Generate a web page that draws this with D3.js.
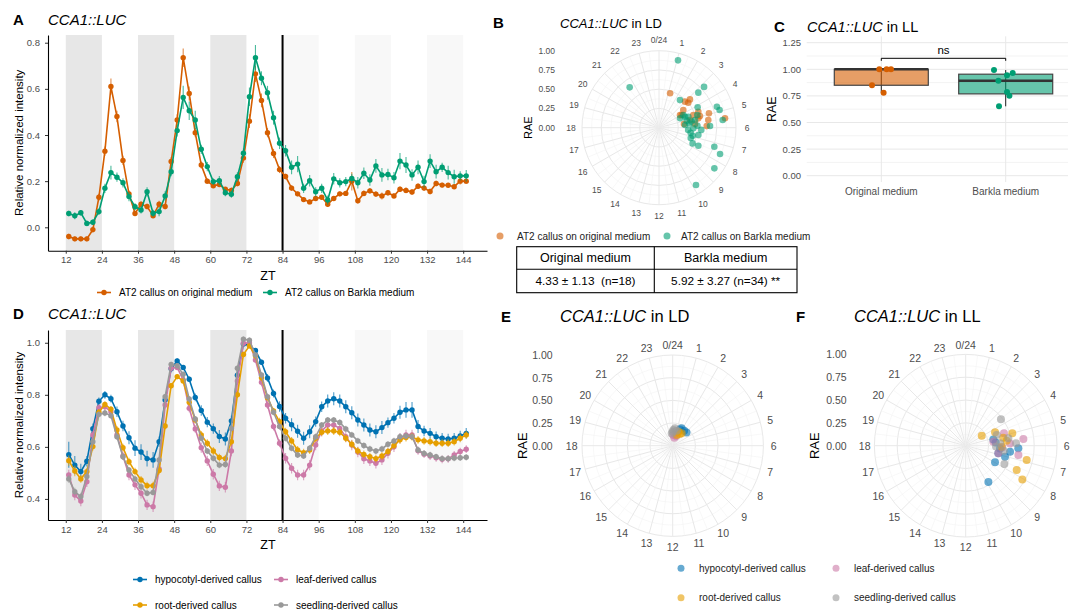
<!DOCTYPE html>
<html>
<head>
<meta charset="utf-8">
<script src="https://cdn.jsdelivr.net/npm/d3@7"></script>
<style>
    body { margin: 0; background: #fff; }
    svg { font-family: "Liberation Sans", Arial, sans-serif; }
    .axis .domain { stroke: #000; stroke-width: 1.1; }
    .axis .tick line { stroke: #333; }
    .axis .tick text { fill: #4d4d4d; font-size: 9.5px; }
</style>
</head>
<body>
<div id="container"></div>
<script>
const ztTimes = [13, 15, 17, 19, 21, 23, 25, 27, 29, 31, 33, 35, 37, 39, 41, 43, 45, 47, 49, 51,
    53, 55, 57, 59, 61, 63, 65, 67, 69, 71, 73, 75, 77, 79, 81, 83, 85, 87, 89, 91,
    93, 95, 97, 99, 101, 103, 105, 107, 109, 111, 113, 115, 117, 119, 121, 123, 125, 127, 129, 131,
    133, 135, 137, 139, 141, 143, 145];
const ztTicks = [12, 24, 36, 48, 60, 72, 84, 96, 108, 120, 132, 144];
const darkNights = [[12, 24], [36, 48], [60, 72]];
const subjectiveNights = [[84, 96], [108, 120], [132, 144]];

// panel A
const aOriginal = [-0.04, -0.05, -0.05, -0.05, -0.01, 0.13, 0.33, 0.61, 0.48, 0.29, 0.145, 0.06, 0.10, 0.09, 0.05, 0.10, 0.09, 0.285, 0.465, 0.735,
    0.58, 0.41, 0.27, 0.20, 0.18, 0.185, 0.165, 0.16, 0.19, 0.30, 0.46, 0.665, 0.55, 0.41, 0.32, 0.25, 0.22, 0.17, 0.145, 0.12,
    0.11, 0.125, 0.13, 0.10, 0.125, 0.145, 0.147, 0.20, 0.115, 0.147, 0.158, 0.144, 0.136, 0.15, 0.136, 0.165, 0.16, 0.153, 0.178, 0.17,
    0.155, 0.19, 0.183, 0.182, 0.176, 0.20, 0.20];
const aOriginalErr = [0.012, 0.01, 0.01, 0.01, 0.012, 0.015, 0.02, 0.035, 0.025, 0.02, 0.015, 0.01, 0.012, 0.012, 0.01, 0.015, 0.012, 0.02, 0.025, 0.04,
    0.03, 0.02, 0.015, 0.012, 0.01, 0.01, 0.01, 0.012, 0.012, 0.02, 0.03, 0.035, 0.03, 0.02, 0.02, 0.015, 0.012, 0.012, 0.01, 0.01,
    0.01, 0.01, 0.01, 0.012, 0.01, 0.01, 0.01, 0.04, 0.012, 0.012, 0.012, 0.012, 0.015, 0.012, 0.012, 0.012, 0.012, 0.012, 0.012, 0.012,
    0.012, 0.012, 0.01, 0.01, 0.01, 0.015, 0.012];
const aBarkla = [0.06, 0.05, 0.063, 0.017, 0.022, 0.068, 0.169, 0.237, 0.217, 0.193, 0.133, 0.089, 0.075, 0.154, 0.061, 0.068, 0.136, 0.241, 0.419, 0.563,
    0.505, 0.465, 0.338, 0.263, 0.198, 0.202, 0.15, 0.143, 0.219, 0.321, 0.566, 0.735, 0.646, 0.583, 0.475, 0.364, 0.332, 0.26, 0.274, 0.169,
    0.202, 0.154, 0.169, 0.118, 0.21, 0.193, 0.198, 0.212, 0.193, 0.234, 0.205, 0.266, 0.227, 0.229, 0.215, 0.287, 0.27, 0.227, 0.26, 0.198,
    0.287, 0.241, 0.26, 0.237, 0.219, 0.223, 0.223];
const aBarklaErr = [0.012, 0.015, 0.012, 0.012, 0.012, 0.015, 0.02, 0.03, 0.02, 0.02, 0.02, 0.015, 0.015, 0.02, 0.015, 0.02, 0.02, 0.02, 0.025, 0.05,
    0.04, 0.04, 0.02, 0.02, 0.015, 0.02, 0.015, 0.015, 0.02, 0.02, 0.04, 0.055, 0.03, 0.03, 0.03, 0.025, 0.025, 0.03, 0.035, 0.02,
    0.025, 0.02, 0.02, 0.02, 0.025, 0.02, 0.02, 0.02, 0.025, 0.025, 0.025, 0.03, 0.03, 0.025, 0.025, 0.035, 0.035, 0.025, 0.03, 0.025,
    0.03, 0.03, 0.02, 0.03, 0.03, 0.02, 0.025];

// panel D
const dHypocotyl = [0.57, 0.53, 0.505, 0.545, 0.67, 0.775, 0.80, 0.785, 0.735, 0.68, 0.635, 0.595, 0.58, 0.555, 0.55, 0.62, 0.78, 0.90, 0.93, 0.905,
    0.86, 0.79, 0.74, 0.695, 0.67, 0.64, 0.63, 0.70, 0.875, 0.995, 0.99, 0.97, 0.925, 0.865, 0.805, 0.755, 0.71, 0.685, 0.66, 0.633,
    0.658, 0.697, 0.754, 0.776, 0.785, 0.776, 0.754, 0.731, 0.703, 0.684, 0.665, 0.658, 0.674, 0.693, 0.71, 0.733, 0.742, 0.742, 0.678, 0.661,
    0.652, 0.639, 0.633, 0.63, 0.633, 0.642, 0.652];
const dHypocotylErr = [0.05, 0.035, 0.03, 0.02, 0.02, 0.015, 0.015, 0.015, 0.02, 0.02, 0.025, 0.03, 0.03, 0.03, 0.03, 0.02, 0.015, 0.01, 0.01, 0.01,
    0.01, 0.015, 0.02, 0.02, 0.02, 0.025, 0.025, 0.02, 0.015, 0.01, 0.01, 0.01, 0.01, 0.015, 0.015, 0.02, 0.02, 0.025, 0.025, 0.025,
    0.025, 0.02, 0.02, 0.025, 0.025, 0.025, 0.025, 0.025, 0.025, 0.025, 0.025, 0.025, 0.025, 0.02, 0.02, 0.025, 0.03, 0.03, 0.025, 0.02,
    0.02, 0.02, 0.02, 0.02, 0.02, 0.02, 0.02];
const dLeaf = [0.492, 0.415, 0.392, 0.466, 0.646, 0.75, 0.754, 0.735, 0.646, 0.565, 0.492, 0.454, 0.422, 0.377, 0.37, 0.515, 0.761, 0.902, 0.905, 0.857,
    0.748, 0.669, 0.597, 0.546, 0.495, 0.45, 0.445, 0.584, 0.853, 0.998, 1.0, 0.934, 0.848, 0.761, 0.678, 0.614, 0.556, 0.518, 0.492, 0.492,
    0.53, 0.607, 0.661, 0.684, 0.684, 0.671, 0.639, 0.607, 0.58, 0.554, 0.546, 0.537, 0.55, 0.575, 0.60, 0.633, 0.646, 0.646, 0.585, 0.572,
    0.565, 0.558, 0.552, 0.554, 0.569, 0.582, 0.591];
const dLeafErr = [0.02, 0.02, 0.02, 0.02, 0.015, 0.015, 0.015, 0.015, 0.015, 0.015, 0.02, 0.02, 0.02, 0.02, 0.02, 0.015, 0.015, 0.01, 0.01, 0.01,
    0.015, 0.015, 0.02, 0.02, 0.02, 0.02, 0.02, 0.02, 0.015, 0.01, 0.01, 0.01, 0.015, 0.015, 0.015, 0.015, 0.02, 0.02, 0.02, 0.02,
    0.02, 0.02, 0.02, 0.02, 0.02, 0.02, 0.02, 0.02, 0.02, 0.02, 0.02, 0.02, 0.02, 0.02, 0.02, 0.02, 0.02, 0.02, 0.015, 0.015,
    0.015, 0.015, 0.015, 0.015, 0.015, 0.015, 0.015];
const dRoot = [0.547, 0.507, 0.477, 0.505, 0.601, 0.733, 0.763, 0.745, 0.665, 0.597, 0.543, 0.505, 0.473, 0.451, 0.451, 0.509, 0.68, 0.835, 0.87, 0.853,
    0.771, 0.703, 0.646, 0.614, 0.584, 0.559, 0.555, 0.62, 0.80, 0.955, 0.988, 0.95, 0.866, 0.789, 0.738, 0.697, 0.658, 0.623, 0.588, 0.578,
    0.588, 0.633, 0.656, 0.661, 0.661, 0.656, 0.633, 0.61, 0.584, 0.571, 0.562, 0.555, 0.565, 0.582, 0.605, 0.627, 0.636, 0.639, 0.627, 0.623,
    0.62, 0.614, 0.614, 0.614, 0.62, 0.633, 0.646];
const dRootErr = [0.02, 0.02, 0.015, 0.015, 0.015, 0.012, 0.012, 0.012, 0.015, 0.015, 0.015, 0.015, 0.015, 0.015, 0.015, 0.015, 0.012, 0.01, 0.01, 0.01,
    0.012, 0.012, 0.015, 0.015, 0.015, 0.015, 0.015, 0.015, 0.012, 0.01, 0.01, 0.01, 0.012, 0.012, 0.012, 0.015, 0.015, 0.015, 0.015, 0.015,
    0.015, 0.015, 0.015, 0.015, 0.015, 0.015, 0.015, 0.015, 0.015, 0.015, 0.015, 0.015, 0.015, 0.015, 0.015, 0.015, 0.015, 0.015, 0.015, 0.015,
    0.015, 0.015, 0.015, 0.015, 0.015, 0.015, 0.015];
const dSeedling = [0.477, 0.428, 0.409, 0.486, 0.62, 0.725, 0.73, 0.72, 0.639, 0.562, 0.511, 0.477, 0.447, 0.422, 0.425, 0.55, 0.793, 0.917, 0.912, 0.879,
    0.784, 0.707, 0.633, 0.584, 0.556, 0.53, 0.532, 0.671, 0.902, 1.014, 1.01, 0.953, 0.876, 0.793, 0.733, 0.678, 0.633, 0.595, 0.569, 0.565,
    0.595, 0.639, 0.684, 0.703, 0.703, 0.694, 0.669, 0.646, 0.623, 0.605, 0.592, 0.584, 0.592, 0.61, 0.623, 0.639, 0.642, 0.639, 0.588, 0.575,
    0.569, 0.562, 0.555, 0.555, 0.557, 0.558, 0.56];
const dSeedlingErr = [0.015, 0.015, 0.015, 0.015, 0.012, 0.012, 0.012, 0.012, 0.012, 0.012, 0.012, 0.012, 0.012, 0.012, 0.012, 0.012, 0.01, 0.01, 0.01, 0.01,
    0.01, 0.012, 0.012, 0.012, 0.012, 0.012, 0.012, 0.012, 0.01, 0.01, 0.01, 0.01, 0.01, 0.012, 0.012, 0.012, 0.012, 0.012, 0.012, 0.012,
    0.012, 0.012, 0.012, 0.012, 0.012, 0.012, 0.012, 0.012, 0.012, 0.012, 0.012, 0.012, 0.012, 0.012, 0.012, 0.012, 0.012, 0.012, 0.012, 0.012,
    0.012, 0.012, 0.012, 0.012, 0.012, 0.012, 0.012];

// panel B: phase (h) and RAE per callus
const bOriginalPhase = [1.19, 3.17, 3.3, 3.0, 3.6, 4.05, 4.65, 4.53, 4.93, 5.46, 5.41, 5.11, 5.87, 5.44, 5.07, 5.6, 3.94, 4.94];
const bOriginalRae = [0.47, 0.545, 0.50, 0.478, 0.39, 0.337, 0.475, 0.551, 0.675, 0.866, 0.648, 0.525, 0.62, 0.328, 0.415, 0.47, 0.318, 0.553];
const bBarklaPhase = [1.05, 21.6, 3.19, 3.22, 2.48, 4.67, 4.15, 4.91, 5.54, 5.87, 6.7, 7.27, 7.55, 8.42, 9.81, 7.64, 7.67, 7.2, 6.6, 6.07,
    5.46, 4.47, 4.63, 4.17, 4.78, 5.05, 5.3, 5.2, 5.6, 6.3, 6.9, 5.8, 4.4, 6.2];
const bBarklaRae = [0.909, 0.648, 0.79, 0.684, 0.45, 0.80, 0.567, 0.82, 0.833, 0.663, 0.52, 0.76, 0.863, 0.892, 0.886, 0.562, 0.482, 0.433, 0.416, 0.446,
    0.398, 0.367, 0.407, 0.356, 0.524, 0.371, 0.431, 0.478, 0.34, 0.38, 0.45, 0.50, 0.30, 0.55];

// panel C: RAE in LL
const cCategories = ['Original medium', 'Barkla medium'];
const cOriginal = [1.0, 1.0, 1.0, 0.85, 0.78];
const cBarkla = [0.993, 0.893, 0.943, 0.965, 0.786, 0.752, 0.652];
const cOriginalJitter = [-2, 5.3, 9.7, -9.3, 2.3];
const cBarklaJitter = [-11.7, -7.3, 1.3, 7, 1.3, 3.7, -6.7];

// panel E: LD
const eHypPhase = [3.1, 1.8, 2.5, 1.6];
const eHypRae = [0.21, 0.215, 0.207, 0.197];
const eRootPhase = [2.1, 1.5, 2.4, 1.4];
const eRootRae = [0.152, 0.167, 0.168, 0.126];
const eLeafPhase = [0.8, 1.3, 0.2];
const eLeafRae = [0.09, 0.113, 0.118];
const eSeedPhase = [0.16, 0.5, 0.0, 1.0, 23.7];
const eSeedRae = [0.173, 0.193, 0.154, 0.171, 0.136];

// panel F: LL
const fHypPhase = [9.87, 7.97, 6.19, 7.04, 6.88, 5.14, 6.51, 6.3, 5.6];
const fHypRae = [0.469, 0.369, 0.577, 0.447, 0.367, 0.31, 0.49, 0.377, 0.33];
const fRootPhase = [3.87, 4.37, 5.01, 6.88, 7.7, 8.05, 5.53, 6.1, 5.2];
const fRootRae = [0.207, 0.353, 0.528, 0.686, 0.619, 0.722, 0.452, 0.394, 0.42];
const fLeafPhase = [5.56, 6.67, 4.8, 5.45, 6.88, 5.8, 6.2];
const fLeafRae = [0.636, 0.586, 0.441, 0.306, 0.367, 0.486, 0.40];
const fSeedPhase = [3.55, 5.82, 7.69, 4.73, 5.35, 5.74, 6.1, 6.5];
const fSeedRae = [0.482, 0.552, 0.469, 0.359, 0.474, 0.377, 0.332, 0.42];

const orange = '#D55E00', green = '#009E73';
const blue = '#0072B2', pink = '#CC79A7', amber = '#E69F00', grey = '#999999';

const svg = d3.select('#container').append('svg')
    .attr('width', 1070)
    .attr('height', 610);

function panelTitle(letter, lx, x, y, size, suffix) {
    svg.append('text')
        .attr('x', lx)
        .attr('y', y)
        .attr('font-size', '15px')
        .attr('font-weight', 'bold')
        .text(letter);
    const t = svg.append('text')
        .attr('x', x)
        .attr('y', y)
        .attr('font-size', size + 'px');
    t.append('tspan').attr('font-style', 'italic').text('CCA1::LUC');
    if (suffix) t.append('tspan').text(' ' + suffix);
}

function drawLinePanel(cfg) {
    const x = d3.scaleLinear().domain([6.1, 151.9]).range([48, 487]);
    const y = d3.scaleLinear().domain(cfg.yDomain).range([cfg.bottom, cfg.top]);
    const g = svg.append('g');

    g.selectAll(null).data(darkNights).enter().append('rect')
        .attr('x', d => x(d[0]))
        .attr('width', d => x(d[1]) - x(d[0]))
        .attr('y', cfg.top)
        .attr('height', cfg.bottom - cfg.top)
        .attr('fill', '#e7e7e7');
    g.selectAll(null).data(subjectiveNights).enter().append('rect')
        .attr('x', d => x(d[0]))
        .attr('width', d => x(d[1]) - x(d[0]))
        .attr('y', cfg.top)
        .attr('height', cfg.bottom - cfg.top)
        .attr('fill', '#f8f8f8');

    g.append('line')
        .attr('x1', x(84)).attr('x2', x(84))
        .attr('y1', cfg.top).attr('y2', cfg.bottom)
        .attr('stroke', '#000')
        .attr('stroke-width', 2);

    const line = d3.line().x(d => x(d.t)).y(d => y(d.v));
    cfg.series.forEach(s => {
        const pts = ztTimes.map((t, i) => ({ t: t, v: s.values[i], e: s.errors[i] }));
        g.selectAll(null).data(pts).enter().append('line')
            .attr('x1', d => x(d.t)).attr('x2', d => x(d.t))
            .attr('y1', d => y(d.v - d.e)).attr('y2', d => y(d.v + d.e))
            .attr('stroke', s.color)
            .attr('stroke-opacity', 0.7)
            .attr('stroke-width', 1.1);
        g.append('path')
            .datum(pts)
            .attr('d', line)
            .attr('fill', 'none')
            .attr('stroke', s.color)
            .attr('stroke-width', 1.6);
        g.selectAll(null).data(pts).enter().append('circle')
            .attr('cx', d => x(d.t))
            .attr('cy', d => y(d.v))
            .attr('r', 2.7)
            .attr('fill', s.color);
    });

    g.append('g')
        .attr('class', 'axis')
        .attr('transform', `translate(0, ${cfg.bottom})`)
        .call(d3.axisBottom(x).tickValues(ztTicks).tickSize(3).tickSizeOuter(0).tickPadding(3));
    g.append('g')
        .attr('class', 'axis')
        .attr('transform', 'translate(48, 0)')
        .call(d3.axisLeft(y).tickValues(cfg.yTicks).tickFormat(d3.format('.1f')).tickSize(3).tickSizeOuter(0).tickPadding(5));

    g.append('text')
        .attr('x', 268)
        .attr('y', cfg.bottom + 29)
        .attr('text-anchor', 'middle')
        .attr('font-size', '12.5px')
        .text('ZT');
    g.append('text')
        .attr('transform', `translate(23, ${(cfg.top + cfg.bottom) / 2}) rotate(-90)`)
        .attr('text-anchor', 'middle')
        .attr('font-size', '11.5px')
        .text('Relative normalized intensity');
}

function lineLegend(items, y) {
    items.forEach(it => {
        svg.append('line')
            .attr('x1', it.x).attr('x2', it.x + 14)
            .attr('y1', y).attr('y2', y)
            .attr('stroke', it.color)
            .attr('stroke-width', 1.6);
        svg.append('circle')
            .attr('cx', it.x + 7).attr('cy', y)
            .attr('r', 2.7)
            .attr('fill', it.color);
        svg.append('text')
            .attr('x', it.x + 22)
            .attr('y', y + 3.5)
            .attr('font-size', '10px')
            .text(it.label);
    });
}

function dotLegend(items) {
    items.forEach(it => {
        svg.append('circle')
            .attr('cx', it.x).attr('cy', it.y)
            .attr('r', 3.5)
            .attr('fill', it.color)
            .attr('fill-opacity', 0.6);
        svg.append('text')
            .attr('x', it.x + it.gap)
            .attr('y', it.y + 3.5)
            .attr('font-size', '10px')
            .attr('fill', '#222')
            .text(it.label);
    });
}

function drawPolar(cfg) {
    const r = d3.scaleLinear().domain([0, 1]).range([0, cfg.R]);
    const ang = d3.scaleLinear().domain([0, 24]).range([0, 2 * Math.PI]);
    const px = (h, v) => cfg.cx + r(v) * Math.sin(ang(h));
    const py = (h, v) => cfg.cy - r(v) * Math.cos(ang(h));
    const lr = cfg.labelR / cfg.R;
    const g = svg.append('g');

    g.selectAll(null).data([0.125, 0.375, 0.625, 0.875]).enter().append('circle')
        .attr('cx', cfg.cx).attr('cy', cfg.cy)
        .attr('r', d => r(d))
        .attr('fill', 'none')
        .attr('stroke', '#f3f3f3')
        .attr('stroke-width', 0.6);
    g.selectAll(null).data([0.25, 0.5, 0.75, 1]).enter().append('circle')
        .attr('cx', cfg.cx).attr('cy', cfg.cy)
        .attr('r', d => r(d))
        .attr('fill', 'none')
        .attr('stroke', '#e8e8e8')
        .attr('stroke-width', 1);
    g.selectAll(null).data(d3.range(0, 24, 0.5)).enter().append('line')
        .attr('x1', cfg.cx).attr('y1', cfg.cy)
        .attr('x2', d => px(d, 1)).attr('y2', d => py(d, 1))
        .attr('stroke', d => d % 1 === 0 ? '#e8e8e8' : '#f3f3f3')
        .attr('stroke-width', d => d % 1 === 0 ? 1 : 0.6);

    g.selectAll(null).data(d3.range(24)).enter().append('text')
        .attr('x', d => px(d, lr))
        .attr('y', d => py(d, lr))
        .attr('text-anchor', 'middle')
        .attr('dominant-baseline', 'central')
        .attr('font-size', cfg.hourSize + 'px')
        .attr('fill', '#4d4d4d')
        .text(d => d === 0 ? '0/24' : d);

    g.selectAll(null).data([0, 0.25, 0.5, 0.75, 1]).enter().append('text')
        .attr('x', cfg.radX)
        .attr('y', d => cfg.cy - r(d))
        .attr('text-anchor', 'end')
        .attr('dominant-baseline', 'central')
        .attr('font-size', cfg.hourSize + 'px')
        .attr('fill', '#4d4d4d')
        .text(d3.format('.2f'));

    g.append('text')
        .attr('transform', `translate(${cfg.raeX}, ${cfg.cy}) rotate(-90)`)
        .attr('text-anchor', 'middle')
        .attr('font-size', cfg.raeSize + 'px')
        .text('RAE');

    cfg.groups.forEach(grp => {
        g.selectAll(null).data(grp.phase).enter().append('circle')
            .attr('cx', (h, i) => px(h, grp.rae[i]))
            .attr('cy', (h, i) => py(h, grp.rae[i]))
            .attr('r', cfg.pointR)
            .attr('fill', grp.color)
            .attr('fill-opacity', 0.6);
    });
}

function drawBoxPanel() {
    const y = d3.scaleLinear().domain([0, 1.25]).range([175.7, 42.7]);
    const x = d3.scalePoint().domain(cCategories).range([881.3, 1005.7]);
    const g = svg.append('g');

    g.selectAll(null).data([0.125, 0.375, 0.625, 0.875, 1.125]).enter().append('line')
        .attr('x1', 806.7).attr('x2', 1068)
        .attr('y1', d => y(d)).attr('y2', d => y(d))
        .attr('stroke', '#f3f3f3');
    g.selectAll(null).data([0, 0.25, 0.5, 0.75, 1, 1.25]).enter().append('line')
        .attr('x1', 806.7).attr('x2', 1068)
        .attr('y1', d => y(d)).attr('y2', d => y(d))
        .attr('stroke', '#e8e8e8');
    g.selectAll(null).data(cCategories).enter().append('line')
        .attr('x1', d => x(d)).attr('x2', d => x(d))
        .attr('y1', y(1.31)).attr('y2', y(-0.06))
        .attr('stroke', '#e8e8e8');

    g.selectAll(null).data([0, 0.25, 0.5, 0.75, 1, 1.25]).enter().append('text')
        .attr('x', 801)
        .attr('y', d => y(d))
        .attr('text-anchor', 'end')
        .attr('dominant-baseline', 'central')
        .attr('font-size', '9.5px')
        .attr('fill', '#4d4d4d')
        .text(d3.format('.2f'));
    g.selectAll(null).data(cCategories).enter().append('text')
        .attr('x', d => x(d))
        .attr('y', 195)
        .attr('text-anchor', 'middle')
        .attr('font-size', '10px')
        .attr('fill', '#4d4d4d')
        .text(d => d);
    g.append('text')
        .attr('transform', `translate(776, ${y(0.625)}) rotate(-90)`)
        .attr('text-anchor', 'middle')
        .attr('font-size', '12.5px')
        .text('RAE');

    const groups = [
        { name: cCategories[0], values: cOriginal, jitter: cOriginalJitter, color: orange },
        { name: cCategories[1], values: cBarkla, jitter: cBarklaJitter, color: green }
    ];
    const half = 47;
    groups.forEach(grp => {
        const s = grp.values.slice().sort(d3.ascending);
        const q1 = d3.quantile(s, 0.25), med = d3.quantile(s, 0.5), q3 = d3.quantile(s, 0.75);
        const iqr = q3 - q1;
        const lo = d3.min(s.filter(v => v >= q1 - 1.5 * iqr));
        const hi = d3.max(s.filter(v => v <= q3 + 1.5 * iqr));
        const cx = x(grp.name);
        g.append('line')
            .attr('x1', cx).attr('x2', cx)
            .attr('y1', y(lo)).attr('y2', y(hi))
            .attr('stroke', '#222');
        g.append('rect')
            .attr('x', cx - half)
            .attr('width', half * 2)
            .attr('y', y(q3))
            .attr('height', y(q1) - y(q3))
            .attr('fill', grp.color)
            .attr('fill-opacity', 0.6)
            .attr('stroke', '#444')
            .attr('stroke-width', 1.2);
        g.append('line')
            .attr('x1', cx - half).attr('x2', cx + half)
            .attr('y1', y(med)).attr('y2', y(med))
            .attr('stroke', '#333')
            .attr('stroke-width', 2.4);
        g.selectAll(null).data(grp.values).enter().append('circle')
            .attr('cx', (d, i) => cx + grp.jitter[i])
            .attr('cy', d => y(d))
            .attr('r', 3)
            .attr('fill', grp.color);
    });

    const by = 58.3;
    g.append('path')
        .attr('d', `M${x(cCategories[0])},${by + 2.5}V${by}H${x(cCategories[1])}V${by + 2.5}`)
        .attr('fill', 'none')
        .attr('stroke', '#000')
        .attr('stroke-width', 1);
    g.append('text')
        .attr('x', (x(cCategories[0]) + x(cCategories[1])) / 2)
        .attr('y', by - 4)
        .attr('text-anchor', 'middle')
        .attr('font-size', '11.5px')
        .text('ns');
}

function drawTable() {
    const g = svg.append('g');
    const left = 516.7, mid = 654.3, right = 797, rows = [246.7, 269.3, 292.7];
    g.append('rect')
        .attr('x', left).attr('y', rows[0])
        .attr('width', right - left).attr('height', rows[2] - rows[0])
        .attr('fill', 'none').attr('stroke', '#000').attr('stroke-width', 1.1);
    g.append('line').attr('x1', left).attr('x2', right).attr('y1', rows[1]).attr('y2', rows[1])
        .attr('stroke', '#000').attr('stroke-width', 1.1);
    g.append('line').attr('x1', mid).attr('x2', mid).attr('y1', rows[0]).attr('y2', rows[2])
        .attr('stroke', '#000').attr('stroke-width', 1.1);
    const cells = [
        ['Original medium', 'Barkla medium'],
        ['4.33 \u00b1 1.13  (n=18)', '5.92 \u00b1 3.27 (n=34) **']
    ];
    cells.forEach((row, ri) => {
        row.forEach((txt, ci) => {
            g.append('text')
                .attr('x', ci === 0 ? (left + mid) / 2 : (mid + right) / 2)
                .attr('y', (rows[ri] + rows[ri + 1]) / 2 + 4.3)
                .attr('text-anchor', 'middle')
                .attr('font-size', ri === 0 ? '12.5px' : '11.8px')
                .attr('xml:space', 'preserve')
                .style('white-space', 'pre')
                .text(txt);
        });
    });
}

// A
panelTitle('A', 13, 48, 25, 15);
drawLinePanel({
    top: 35, bottom: 250.7, yDomain: [-0.1014, 0.8334], yTicks: [0, 0.2, 0.4, 0.6, 0.8],
    series: [
        { values: aOriginal, errors: aOriginalErr, color: orange },
        { values: aBarkla, errors: aBarklaErr, color: green }
    ]
});
lineLegend([
    { x: 97, color: orange, label: 'AT2 callus on original medium' },
    { x: 263, color: green, label: 'AT2 callus on Barkla medium' }
], 292.5);

// B
panelTitle('B', 493, 560, 28, 13, 'in LD');
drawPolar({
    cx: 659, cy: 127.7, R: 77, labelR: 88, hourSize: 8.5, radX: 555, raeX: 532, raeSize: 11, pointR: 3.3,
    groups: [
        { phase: bOriginalPhase, rae: bOriginalRae, color: orange },
        { phase: bBarklaPhase, rae: bBarklaRae, color: green }
    ]
});
dotLegend([
    { x: 500, y: 236, color: orange, gap: 17, label: 'AT2 callus on original medium' },
    { x: 667, y: 236, color: green, gap: 14, label: 'AT2 callus on Barkla medium' }
]);
drawTable();

// C
panelTitle('C', 774, 807, 31.7, 14.5, 'in LL');
drawBoxPanel();

// D
panelTitle('D', 13, 48, 319, 15);
drawLinePanel({
    top: 330, bottom: 520, yDomain: [0.319, 1.049], yTicks: [0.4, 0.6, 0.8, 1.0],
    series: [
        { values: dHypocotyl, errors: dHypocotylErr, color: blue },
        { values: dLeaf, errors: dLeafErr, color: pink },
        { values: dRoot, errors: dRootErr, color: amber },
        { values: dSeedling, errors: dSeedlingErr, color: grey }
    ]
});
lineLegend([
    { x: 133, color: blue, label: 'hypocotyl-derived callus' },
    { x: 274, color: pink, label: 'leaf-derived callus' }
], 579.5);
lineLegend([
    { x: 133, color: amber, label: 'root-derived callus' },
    { x: 274, color: grey, label: 'seedling-derived callus' }
], 605);

// E
panelTitle('E', 501, 560, 321.7, 16.5, 'in LD');
drawPolar({
    cx: 672.7, cy: 445.7, R: 90.7, labelR: 101, hourSize: 10.5, radX: 552.7, raeX: 527, raeSize: 13, pointR: 4,
    groups: [
        { phase: eHypPhase, rae: eHypRae, color: blue },
        { phase: eLeafPhase, rae: eLeafRae, color: pink },
        { phase: eRootPhase, rae: eRootRae, color: amber },
        { phase: eSeedPhase, rae: eSeedRae, color: grey }
    ]
});

// F
panelTitle('F', 796, 854, 321.7, 16.5, 'in LL');
drawPolar({
    cx: 965.7, cy: 445.7, R: 91.3, labelR: 101, hourSize: 10.5, radX: 846.7, raeX: 819, raeSize: 13, pointR: 4,
    groups: [
        { phase: fHypPhase, rae: fHypRae, color: blue },
        { phase: fLeafPhase, rae: fLeafRae, color: pink },
        { phase: fRootPhase, rae: fRootRae, color: amber },
        { phase: fSeedPhase, rae: fSeedRae, color: grey }
    ]
});
dotLegend([
    { x: 681, y: 568.3, color: blue, gap: 18, label: 'hypocotyl-derived callus' },
    { x: 836, y: 568.3, color: pink, gap: 18, label: 'leaf-derived callus' },
    { x: 681, y: 597.7, color: amber, gap: 18, label: 'root-derived callus' },
    { x: 836, y: 597.7, color: grey, gap: 18, label: 'seedling-derived callus' }
]);
</script>
</body>
</html>
